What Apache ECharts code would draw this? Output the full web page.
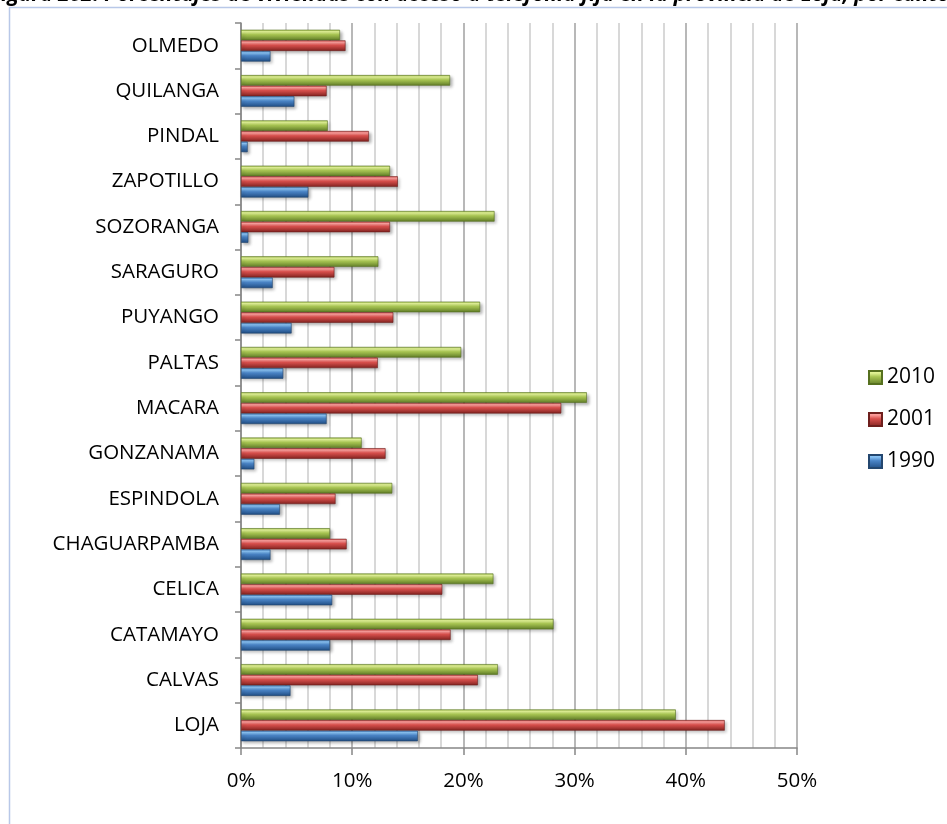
<!DOCTYPE html>
<html><head><meta charset="utf-8">
<script src="https://cdn.jsdelivr.net/npm/echarts@6/dist/echarts.min.js"></script>
<style>html,body{margin:0;padding:0;background:#fff}#c{width:947px;height:824px}</style>
</head><body><div id="c"></div>
<script>
var categories = ['LOJA','CALVAS','CATAMAYO','CELICA','CHAGUARPAMBA','ESPINDOLA','GONZANAMA','MACARA','PALTAS','PUYANGO','SARAGURO','SOZORANGA','ZAPOTILLO','PINDAL','QUILANGA','OLMEDO'];
var v1990 = [15.9, 4.45, 8.0, 8.2, 2.65, 3.5, 1.2, 7.7, 3.8, 4.55, 2.85, 0.66, 6.05, 0.6, 4.8, 2.65];
var v2001 = [43.5, 21.3, 18.85, 18.1, 9.5, 8.5, 13.0, 28.8, 12.3, 13.7, 8.4, 13.4, 14.1, 11.5, 7.7, 9.4];
var v2010 = [39.1, 23.1, 28.1, 22.7, 8.0, 13.6, 10.85, 31.1, 19.8, 21.5, 12.35, 22.8, 13.4, 7.8, 18.8, 8.9];
var seriesNames = ['2010','2001','1990'];
var titleText = 'Figura 202: Porcentajes de viviendas con acceso a telefonía fija en la provincia de Loja, por cantón';

function grad(hi, mid, dark) {
  return new echarts.graphic.LinearGradient(0, 0, 0, 1, [
    {offset: 0, color: mid}, {offset: 0.18, color: hi}, {offset: 0.45, color: mid}, {offset: 1, color: dark}
  ]);
}
var colors = {
  '1990': grad('#8cc6f7', '#4a84c6', '#1f4c82'),
  '2001': grad('#ffa3a1', '#d9504d', '#80221f'),
  '2010': grad('#e6f79a', '#a9c653', '#5e7a26')
};
var edge = {'1990': '#24476f', '2001': '#6e1f1d', '2010': '#56701f'};
var dataMap = {'1990': v1990, '2001': v2001, '2010': v2010};

var chart = echarts.init(document.getElementById('c'), null, {renderer: 'canvas'});
var font = 'Open Sans';
chart.setOption({
  animation: false,
  backgroundColor: '#ffffff',
  graphic: [
    {type: 'rect', shape: {x: 9.5, y: 7.5, width: 1000, height: 1000}, style: {fill: 'none', stroke: '#b8c8e8', lineWidth: 1.5}, z: -1},
    {type: 'text', x: -10, y: 6, style: {text: titleText, font: 'italic bold 21px "Open Sans"', fill: '#000', textVerticalAlign: 'bottom'}}
  ],
  grid: {left: 241, right: 150, top: 23, bottom: 76, containLabel: false},
  legend: {
    orient: 'vertical', left: 863, top: 362, itemWidth: 13, itemHeight: 13, itemGap: 21, icon: 'rect',
    data: ['2010','2001','1990'],
    textStyle: {fontFamily: font, fontSize: 21, color: '#000'}
  },
  xAxis: {
    type: 'value', min: 0, max: 50, interval: 10,
    axisLine: {show: true, lineStyle: {color: '#868686', width: 1.5}},
    axisTick: {show: true, length: 7, lineStyle: {color: '#868686', width: 1.5}},
    axisLabel: {formatter: '{value}%', fontFamily: font, fontSize: 20.5, color: '#000', margin: 23},
    splitLine: {show: true, lineStyle: {color: '#a0a0a0', width: 1.5}},
    minorTick: {show: false, splitNumber: 5},
    minorSplitLine: {show: true, lineStyle: {color: '#cccccc', width: 1.5}}
  },
  yAxis: {
    type: 'category', data: categories,
    axisLine: {show: true, lineStyle: {color: '#868686', width: 1.5}},
    axisTick: {show: true, length: 6, lineStyle: {color: '#868686', width: 1.5}},
    axisLabel: {fontFamily: font, fontSize: 20.5, color: '#000', margin: 22}
  },
  series: seriesNames.map(function (n) {
    return {
      name: n, type: 'bar', data: dataMap[n], barWidth: 10.6, barGap: '0%',
      itemStyle: {color: colors[n], borderColor: edge[n], borderWidth: 0.6,
        shadowBlur: 3, shadowOffsetX: 2, shadowOffsetY: 2, shadowColor: 'rgba(0,0,0,0.3)'}
    };
  })
});
</script></body></html>
